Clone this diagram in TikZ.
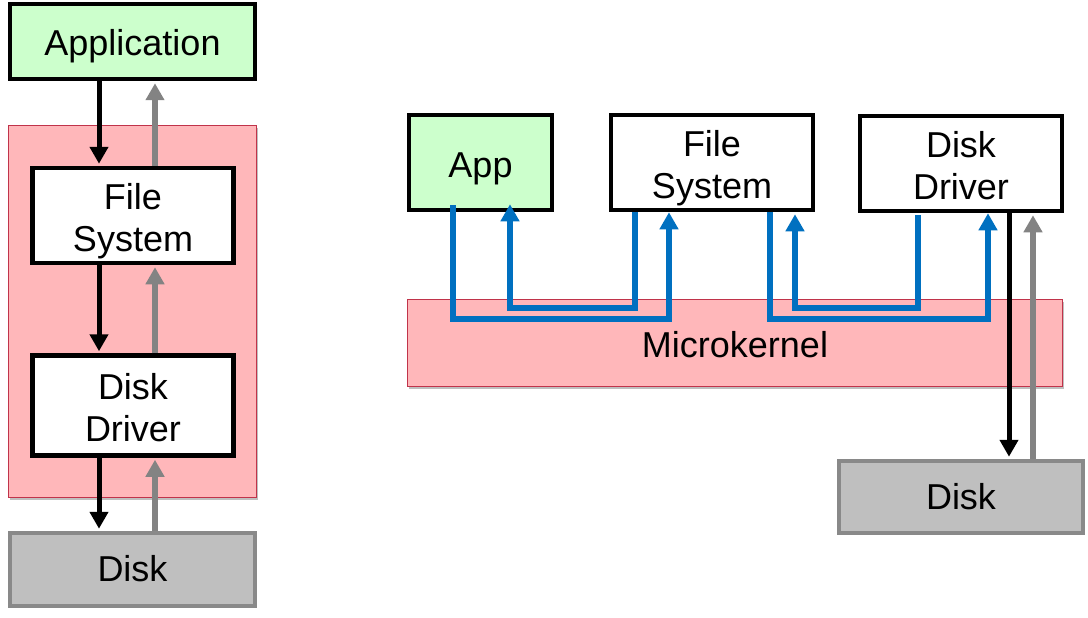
\documentclass[tikz,border=0pt]{standalone}
\usepackage{fontspec}
\setmainfont{Liberation Sans}
\usetikzlibrary{arrows.meta,shadows}
\definecolor{appgreen}{HTML}{CCFFCC}
\definecolor{kernpink}{HTML}{FFB7BA}
\definecolor{kernedge}{HTML}{C0334A}
\definecolor{diskfill}{HTML}{BFBFBF}
\definecolor{diskedge}{HTML}{898989}
\definecolor{retgray}{HTML}{838383}
\definecolor{ipcblue}{HTML}{0070C0}
% struts giving each text block a fixed ascent and descent
\newcommand{\botstrut}{\rule[-0.212em]{0pt}{0.212em}}
\newcommand{\firstline}{\rule{0pt}{1.02em}}
\tikzset{
  label text/.style={font=\fontsize{36}{42}\selectfont,
    execute at begin node={\rule{0pt}{#1}}, execute at end node=\botstrut},
  label text/.default=0.905em,
  box/.style={draw=black, line width=4.5pt, fill=white, inner sep=0pt, align=center,
    label text},
  appbox/.style={box, fill=appgreen},
  diskbox/.style={box, draw=diskedge, fill=diskfill},
  kernbox/.style={draw=kernedge, line width=1.8pt, fill=kernpink, inner sep=0pt,
    label text,
    drop shadow={shadow xshift=1pt, shadow yshift=-2.5pt, opacity=0.25, fill=black}},
  head/.style={-{Triangle[width=18pt,length=17pt]}},
  callarrow/.style={head, draw=black, line width=5pt},
  retarrow/.style={head, draw=retgray, line width=5.5pt},
  ipc/.style={head, draw=ipcblue, line width=5.5pt, line join=miter},
}
\begin{document}
\begin{tikzpicture}[x=1pt,y=-1pt]
\useasboundingbox (0,0) rectangle (1088,618);

% ---- monolithic stack ----
\node[kernbox, minimum width=248pt, minimum height=372pt] (kern1) at (132.5,311.5) {};
\node[appbox, label text=1.0em, minimum width=245pt, minimum height=75pt] (app1) at (132.5,41.5) {Application};
\node[box, minimum width=201pt, minimum height=95pt] (fs1) at (133,215.5) {\firstline File\\System};
\node[box, minimum width=201pt, minimum height=100pt] (dd1) at (133,405.5) {\firstline Disk\\Driver};
\node[diskbox, minimum width=245pt, minimum height=73pt] (disk1) at (132.5,569.5) {Disk};

\coordinate (down1) at (99,0);
\coordinate (up1) at (155,0);
\draw[callarrow] (app1.south -| down1) -- ([yshift=2pt]fs1.north -| down1);
\draw[retarrow] (fs1.north -| up1) -- ([yshift=-2pt]app1.south -| up1);
\draw[callarrow] (fs1.south -| down1) -- ([yshift=2pt]dd1.north -| down1);
\draw[retarrow] (dd1.north -| up1) -- ([yshift=-2pt]fs1.south -| up1);
\draw[callarrow] (dd1.south -| down1) -- ([yshift=2pt]disk1.north -| down1);
\draw[retarrow] (disk1.north -| up1) -- ([yshift=-2pt]dd1.south -| up1);

% ---- microkernel layout ----
\node[kernbox, label text=1.0em, minimum width=655pt, minimum height=87pt] (kern2) at (735,343) {Microkernel};
\node[appbox, label text=1.07em, minimum width=143pt, minimum height=95pt] (app2) at (480.5,162.5) {App};
\node[box, minimum width=202pt, minimum height=95pt] (fs2) at (712,162.5) {\firstline File\\System};
\node[box, minimum width=202pt, minimum height=95pt] (dd2) at (961,163.5) {\firstline Disk\\Driver};
\node[diskbox, minimum width=244pt, minimum height=72pt] (disk2) at (961,497) {Disk};

% message paths through the kernel
\coordinate (m1a) at (453,319);  \coordinate (m1b) at (669,319);
\coordinate (m2a) at (635,308);  \coordinate (m2b) at (510,308);
\coordinate (m3a) at (770,319);  \coordinate (m3b) at (988,319);
\coordinate (m4a) at (918,308);  \coordinate (m4b) at (795,308);

\draw[ipc] ([yshift=7pt]app2.south -| m1a) -- (m1a) -- (m1b) -- (fs2.south -| m1b);
\draw[ipc] (fs2.south -| m2a) -- (m2a) -- (m2b) -- ([yshift=8pt]app2.south -| m2b);
\draw[ipc] (fs2.south -| m3a) -- (m3a) -- (m3b) -- (dd2.south -| m3b);
\draw[ipc] ([yshift=-2pt]dd2.south -| m4a) -- (m4a) -- (m4b) -- ([yshift=-2pt]fs2.south -| m4b);

% driver <-> disk
\coordinate (down2) at (1009,0);
\coordinate (up2) at (1033,0);
\draw[callarrow] (dd2.south -| down2) -- ([yshift=2pt]disk2.north -| down2);
\draw[retarrow] (disk2.north -| up2) -- ([yshift=-2pt]dd2.south -| up2);
\end{tikzpicture}
\end{document}
